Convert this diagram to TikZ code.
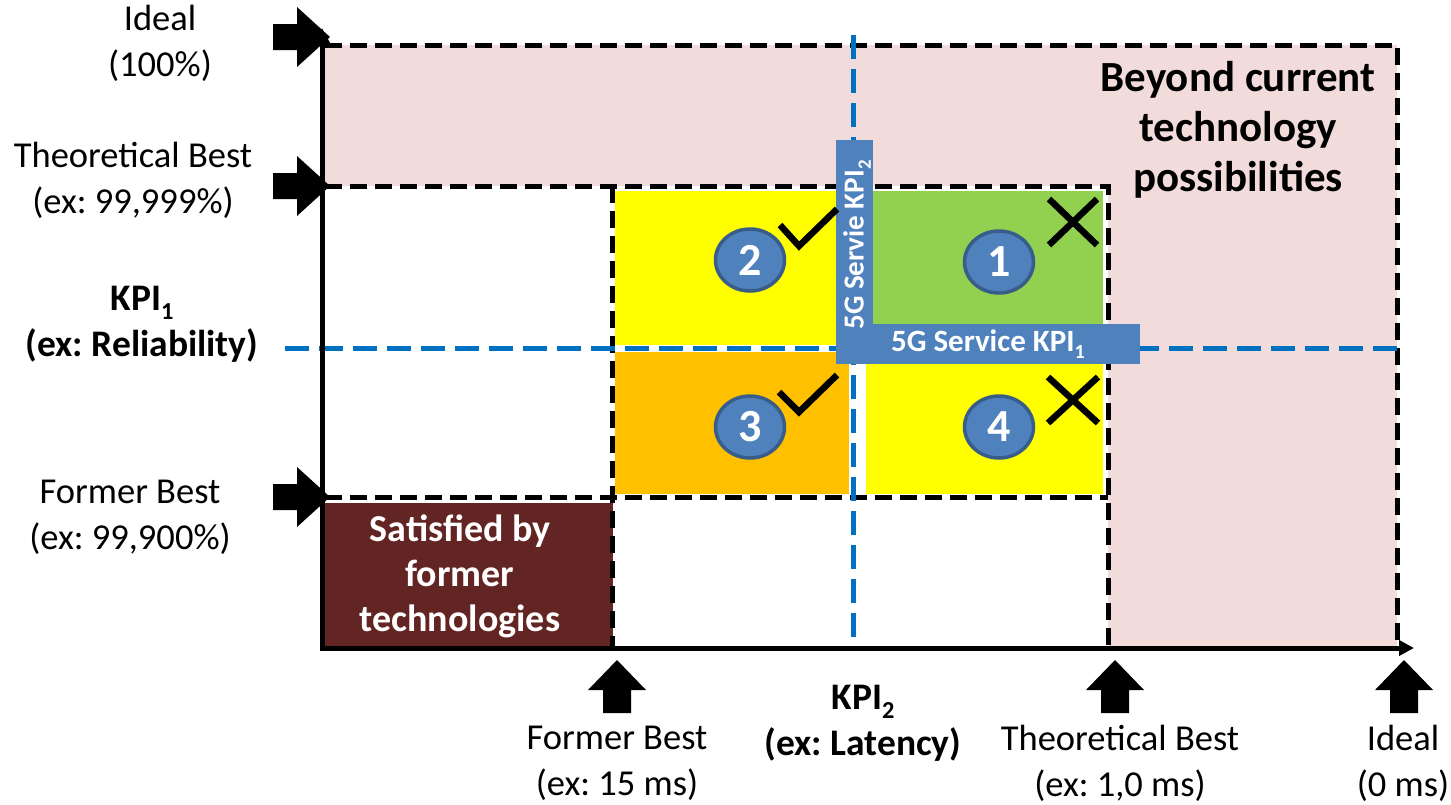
\documentclass[tikz,border=0pt]{standalone}
\usepackage{fontspec}
\usepackage{graphicx}
\setmainfont{Carlito}
\usetikzlibrary{arrows.meta,shapes.geometric}
\definecolor{pinkbg}{HTML}{F2DCDB}
\definecolor{yel}{HTML}{FFFF00}
\definecolor{orng}{HTML}{FFC000}
\definecolor{grn}{HTML}{92D050}
\definecolor{brwn}{HTML}{632523}
\definecolor{lblblue}{HTML}{4F81BD}
\definecolor{circedge}{HTML}{385D8A}
\definecolor{dashblue}{HTML}{0070C0}
\newcommand\lowsub[1]{\raisebox{-0.25em}{\scalebox{0.65}{#1}}}
\frenchspacing
\begin{document}
\begin{tikzpicture}[x=1pt,y=-1pt,
  blkdash/.style={line width=5pt, dash pattern=on 17pt off 8pt},
  bluedash/.style={dashblue, line width=5pt, dash pattern=on 24pt off 10pt},
  lbl/.style={align=center, font=\fontsize{36.5}{46}\selectfont, inner sep=0pt},
  lblb/.style={lbl, font=\fontsize{37.5}{46}\selectfont\bfseries},
  lblbox/.style={fill=lblblue, inner sep=0pt, text=white, font=\fontsize{31}{34}\selectfont\bfseries},
  badge/.style={ellipse, fill=lblblue, draw=circedge, line width=3.5pt, minimum width=69pt, minimum height=62pt, inner sep=0pt, text=white, font=\fontsize{46}{46}\selectfont\bfseries},
  tickmark/.style={line width=6.5pt},
  rarrow/.pic={\fill (-28,-13) -- (-4,-13) -- (-4,-30) -- (29,0) -- (-4,30) -- (-4,13) -- (-28,13) -- cycle;},
  uarrow/.pic={\fill (-14,27) -- (-14,4) -- (-29,4) -- (0,-26) -- (29,4) -- (14,4) -- (14,27) -- cycle;}
]
\useasboundingbox (0,0) rectangle (1451,804);

% background regions
\fill[pinkbg] (325,45) rectangle (1397,648);
\fill[white] (325,186) rectangle (1108,648);
\fill[yel] (615,191) rectangle (849,345);
\fill[orng] (615,352) rectangle (849,494);
\fill[grn] (868,191) rectangle (1103,330);
\fill[yel] (866,364) rectangle (1103,494);
\node[fill=brwn, minimum width=292pt, minimum height=143pt, inner sep=0pt] (brownbox) at (467,574.5) {};
\node[lblb, text=white, font=\fontsize{38}{45}\selectfont\bfseries] (browntext) at (460,576) {Satisfied by\\former\\technologies};

% black dashed lines
\draw[blkdash] (325,45) -- (1397,45) -- (1397,648);
\draw[blkdash] (325,186) -- (1108,186) -- (1108,648);
\draw[blkdash] (325,497) -- (1108,497);
\draw[blkdash] (612,186) -- (612,648);

% blue dashed lines
\draw[bluedash] (285,348) -- (1397,348);
\draw[bluedash] (853,35) -- (853,648);

% label boxes
\node[fill=lblblue, minimum width=37pt, minimum height=223pt, inner sep=0pt] (vbox) at (854.5,251.5) {};
\node[lblbox, minimum width=304pt, minimum height=40pt] (hbox) at (988,344) {5G Service KPI\lowsub{1}};
\node[text=white, inner sep=0pt, rotate=90, font=\fontsize{29}{32}\selectfont\bfseries] (vtext) at (857,245) {5G Servie KPI\lowsub{2}};

% badges
\node[badge] (b1) at (999,262) {1};
\node[badge] (b2) at (750,260) {2};
\node[badge] (b3) at (750,427) {3};
\node[badge] (b4) at (999,427) {4};

% check marks and crosses
\draw[tickmark] (780,225) -- (799,246) -- (837,209);
\draw[tickmark] (779,392) -- (799,412) -- (837,375);
\draw[tickmark] (1049,199) -- (1097,245);
\draw[tickmark] (1049,245) -- (1097,199);
\draw[tickmark] (1048,377) -- (1098,423);
\draw[tickmark] (1048,423) -- (1098,377);

% axes
\coordinate (origin) at (322,648);
\coordinate (ytop) at (322,28);
\coordinate (xend) at (1414,648);
\draw[line width=5pt, -{Triangle[length=15pt,width=15pt]}] (322,650) -- (ytop);
\draw[line width=5pt, -{Triangle[length=15pt,width=15pt]}] (320,648) -- (xend);

% block arrows
\pic at (301,37) {rarrow};
\pic at (301,186) {rarrow};
\pic at (301,497) {rarrow};
\pic at (617,686) {uarrow};
\pic at (1115,686) {uarrow};
\pic at (1404,686) {uarrow};

% labels
\node[lbl] (lIdeal) at (160,43) {Ideal\\(100\%)};
\node[lbl] (lTheo) at (133,180) {Theoretical Best\\(ex: 99,999\%)};
\node[lblb] (lKPI1) at (142,324) {KPI\lowsub{1}\\(ex: Reliability)};
\node[lbl] (lFormer) at (130,517) {Former Best\\(ex: 99,900\%)};
\node[lbl] (bFormer) at (617,763) {Former Best\\(ex: 15 ms)};
\node[lblb] (bKPI2) at (863,723) {KPI\lowsub{2}\\(ex: Latency)};
\node[lbl] (bTheo) at (1120,763) {Theoretical Best\\(ex: 1,0 ms)};
\node[lbl] (bIdeal) at (1403,763) {Ideal\\(0 ms)};
\node[lblb, font=\fontsize{43}{50}\selectfont\bfseries] (beyond) at (1238,130) {Beyond current\\technology\\possibilities};
\end{tikzpicture}
\end{document}
